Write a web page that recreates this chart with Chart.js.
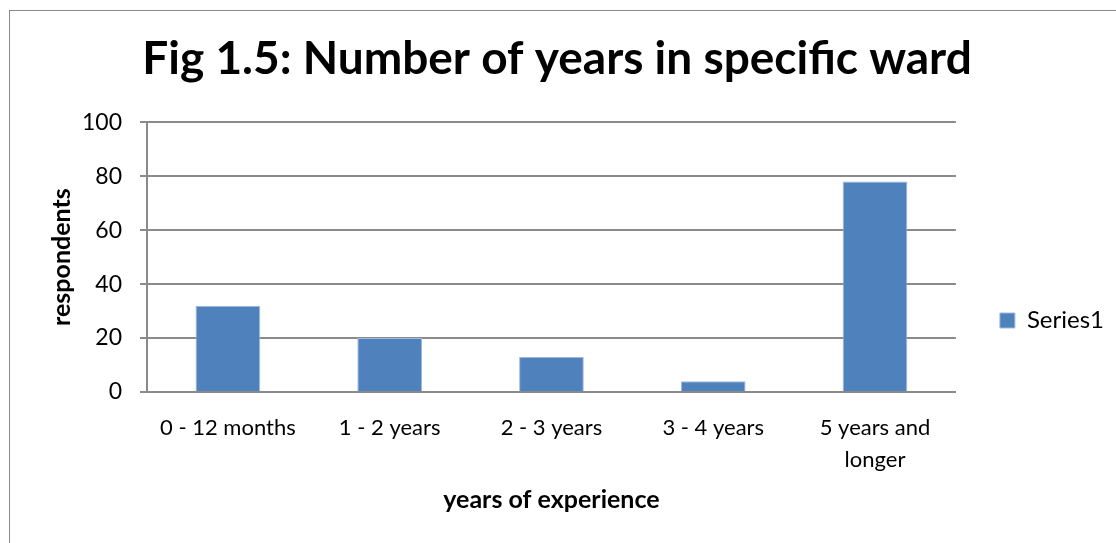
<!DOCTYPE html>
<html>
<head>
<meta charset="utf-8">
<script src="https://cdn.jsdelivr.net/npm/chart.js@4.4.1/dist/chart.umd.min.js"></script>
<style>
  html, body { margin:0; padding:0; background:#fff; overflow:hidden; }
  #wrap { position:relative; width:1116px; height:543px; }
  #frame { position:absolute; left:9px; top:10px; width:1200px; height:600px; border:1px solid #898989; box-sizing:border-box; }
  canvas { position:absolute; left:0; top:0; }
</style>
</head>
<body>
<div id="wrap">
  <div id="frame"></div>
  <canvas id="c" width="1116" height="543"></canvas>
</div>
<script>
/* ------------ data ------------ */
const categories = ['0 - 12 months', '1 - 2 years', '2 - 3 years', '3 - 4 years', ['5 years and', 'longer']];
const series1    = [32, 20, 13, 4, 78];
const yTicks     = [0, 20, 40, 60, 80, 100];

const TITLE   = 'Fig 1.5: Number of years in specific ward';
const X_TITLE = 'years of experience';
const Y_TITLE = 'respondents';

const FONT   = 'Lato, "Open Sans", sans-serif';
const BLUE   = '#4f81bd';
const GRID   = '#8a8a8a';

// nudge the legend down, Excel centres it lower than the plot
const legendNudge = {
  id: 'legendNudge',
  afterLayout(chart) {
    const lg = chart.legend;
    if (!lg) return;
    lg.top += 49;
    lg.bottom += 49;
  }
};

new Chart(document.getElementById('c').getContext('2d'), {
  type: 'bar',
  data: {
    labels: categories,
    datasets: [{
      label: 'Series1',
      data: series1,
      backgroundColor: BLUE,
      borderColor: '#9fbadb',
      borderWidth: 1,
      barPercentage: 0.4,
      categoryPercentage: 1.0
    }]
  },
  options: {
    responsive: false,
    animation: false,
    devicePixelRatio: 1,
    layout: { padding: { left: 0, right: 2, top: 0, bottom: 0 } },
    scales: {
      x: {
        grid: { display: false, drawTicks: false },
        border: { display: true, color: GRID, width: 2 },
        ticks: { color: '#000', padding: 20, maxRotation: 0, autoSkip: false,
                 font: { family: FONT, size: 22, lineHeight: 1.45 } },
        title: { display: true, text: X_TITLE, color: '#000',
                 font: { family: FONT, size: 25, weight: 'bold' }, padding: { top: 0, bottom: 28 } },
        afterFit(scale) { scale.height = 151; }
      },
      y: {
        min: yTicks[0],
        max: yTicks[yTicks.length - 1],
        grid: { color: GRID, lineWidth: 2, tickLength: 7, tickColor: GRID },
        border: { display: true, color: GRID, width: 2 },
        ticks: { stepSize: yTicks[1] - yTicks[0], color: '#000', padding: 18,
                 font: { family: FONT, size: 23 } },
        title: { display: true, text: Y_TITLE, color: '#000',
                 font: { family: FONT, size: 25, weight: 'bold' }, padding: { top: 47, bottom: 0 } },
        afterFit(scale) { scale.width = 147; }
      }
    },
    plugins: {
      title: {
        display: true, text: TITLE, color: '#000',
        font: { family: FONT, size: 46, weight: 'bold' },
        padding: { top: 32, bottom: 35 }
      },
      legend: {
        position: 'right',
        align: 'center',
        labels: { boxWidth: 15, boxHeight: 15, padding: 44, color: '#000',
                  font: { family: FONT, size: 24 } }
      },
      tooltip: { enabled: false }
    }
  },
  plugins: [legendNudge]
});
</script>
</body>
</html>
